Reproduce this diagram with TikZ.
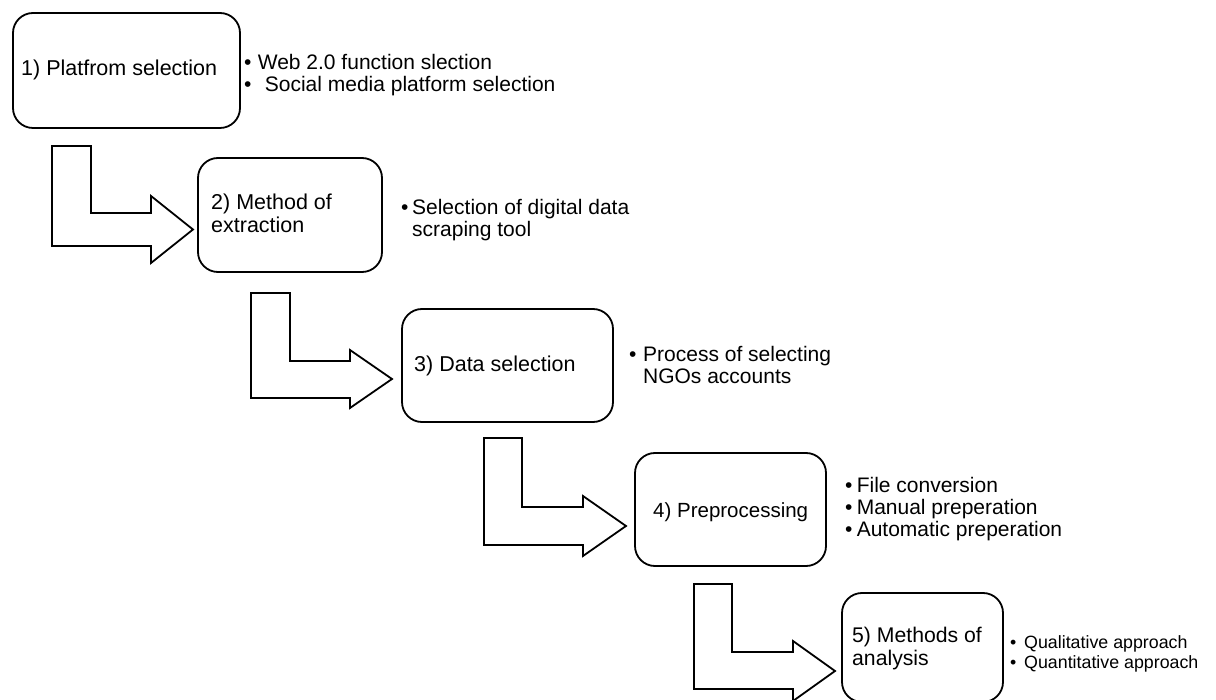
\documentclass[tikz,border=0pt]{standalone}
\usepackage{fontspec}
\setmainfont{Liberation Sans}
\begin{document}
\begin{tikzpicture}[x=1pt,y=-1pt,
  stage/.style={draw, line width=1.8pt, rounded corners=20pt, anchor=north west,
    inner sep=0pt, outer sep=0pt},
  blockarrow/.style={draw, line width=1.8pt, line join=miter, fill=white},
  steplabel/.style={anchor=base west, inner sep=0pt, font=\fontsize{21.5}{23}\selectfont},
  notes/.style={anchor=base west, inner sep=0pt, font=\fontsize{21}{22}\selectfont},
  smallnotes/.style={anchor=base west, inner sep=0pt, font=\fontsize{17.8}{20}\selectfont}
]
\useasboundingbox (0,0) rectangle (1216,700);

% ---- stage boxes ----
\node[stage, minimum width=227pt, minimum height=115pt] (s1) at (13,13) {};
\node[stage, minimum width=184pt, minimum height=114pt] (s2) at (198,158) {};
\node[stage, minimum width=211pt, minimum height=113pt] (s3) at (402,309) {};
\node[stage, minimum width=191pt, minimum height=113pt] (s4) at (635,453) {};
\node[stage, minimum width=161pt, minimum height=109pt] (s5) at (842,593) {};

% ---- stage titles ----
\node[steplabel] (t1) at (21,76) {1) Platfrom selection};
\node[steplabel] (t2) at (211,210) {\begin{tabular}[t]{@{}l@{}}2) Method of\\extraction\end{tabular}};
\node[steplabel] (t3) at (414,372) {3) Data selection};
\node[steplabel, font=\fontsize{20.5}{23}\selectfont] (t4) at (653,517) {4) Preprocessing};
\node[steplabel, font=\fontsize{21.2}{23}\selectfont] (t5) at (852,642) {\begin{tabular}[t]{@{}l@{}}5) Methods of\\analysis\end{tabular}};

% ---- bullet notes ----
\node[notes, font=\fontsize{21}{20}\selectfont] (n1) at (244,70)
  {\begin{tabular}[t]{@{}l@{\hspace{6.3pt}}l@{}}•&Web 2.0 function slection\\
   •&\hspace{7pt}Social media platform selection\end{tabular}};
\node[notes] (n2) at (401,215)
  {\begin{tabular}[t]{@{}l@{\hspace{3.6pt}}l@{}}•&Selection of digital data\\
   &scraping tool\end{tabular}};
\node[notes] (n3) at (629,362)
  {\begin{tabular}[t]{@{}l@{\hspace{6.6pt}}l@{}}•&Process of selecting\\
   &NGOs accounts\end{tabular}};
\node[notes] (n4) at (845,493)
  {\begin{tabular}[t]{@{}l@{\hspace{4.2pt}}l@{}}•&File conversion\\
   •&Manual preperation\\•&Automatic preperation\end{tabular}};
\node[smallnotes] (n5) at (1010,648)
  {\begin{tabular}[t]{@{}l@{\hspace{7.8pt}}l@{}}•&Qualitative approach\\
   •&Quantitative approach\end{tabular}};

% ---- L-shaped block arrows between stages ----
\draw[blockarrow] (52,146) -- (91,146) -- (91,213) -- (151,213) -- (151,196)
  -- (193,229.5) -- (151,263) -- (151,246) -- (52,246) -- cycle;
\draw[blockarrow] (251,293) -- (290,293) -- (290,361) -- (350,361) -- (350,350)
  -- (392,379) -- (350,408) -- (350,398) -- (251,398) -- cycle;
\draw[blockarrow] (484,438) -- (522,438) -- (522,507) -- (583,507) -- (583,496)
  -- (626,526) -- (583,556) -- (583,545) -- (484,545) -- cycle;
\draw[blockarrow] (694,584) -- (732,584) -- (732,652) -- (793,652) -- (793,641)
  -- (835,671) -- (793,701) -- (793,689) -- (694,689) -- cycle;
\end{tikzpicture}
\end{document}
